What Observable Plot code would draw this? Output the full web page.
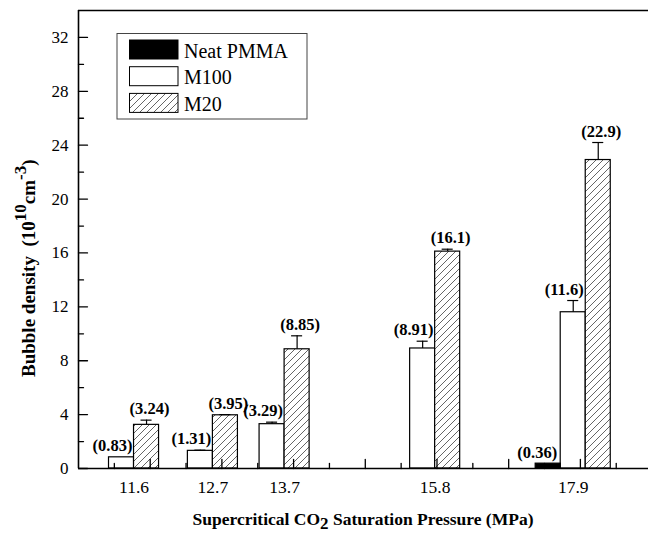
<!DOCTYPE html>
<html><head><meta charset="utf-8">
<script src="https://cdn.jsdelivr.net/npm/d3@7"></script>
<script src="https://cdn.jsdelivr.net/npm/@observablehq/plot@0.6"></script>
<style>
body{margin:0;background:#fff;}
#chart{width:648px;height:533px;}
</style>
</head><body><div id="chart"></div>
<script>
// ---- data ----
const pressures = [11.6, 12.7, 13.7, 15.8, 17.9];
const tickLabels = ["11.6", "12.7", "13.7", "15.8", "17.9"];
const neat = [null, null, null, null, 0.36];
const neatErr = [0, 0, 0, 0, 0];
const m100 = [0.83, 1.31, 3.29, 8.91, 11.6];
const m100Err = [0, 0.05, 0.15, 0.54, 0.87];
const m20 = [3.24, 3.95, 8.85, 16.1, 22.9];
const m20Err = [0.35, 0.05, 1.0, 0.18, 1.3];
const seriesNames = ["Neat PMMA", "M100", "M20"];
const yTickLabels = [0, 4, 8, 12, 16, 20, 24, 28, 32];

// ---- build table ----
const w = 0.349;      // bar width (MPa units)
const cap = 0.077;    // half cap width
const rows = [];
const tickPos = [];
pressures.forEach((p, i) => {
  const centers = [];
  if (neat[i] != null) { rows.push({s: seriesNames[0], x1: p - 1.5*w, x2: p - 0.5*w, c: p - w, v: neat[i], e: neatErr[i]}); centers.push(p - w); }
  rows.push({s: seriesNames[1], x1: p - 0.5*w, x2: p + 0.5*w, c: p, v: m100[i], e: m100Err[i]}); centers.push(p);
  rows.push({s: seriesNames[2], x1: p + 0.5*w, x2: p + 1.5*w, c: p + w, v: m20[i], e: m20Err[i]}); centers.push(p + w);
  tickPos.push(d3.mean(centers));
});
const bySeries = s => rows.filter(d => d.s === s);
const errRows = rows.filter(d => d.e > 0);

const xDomain = [11.0, 18.95];
const yDomain = [0, 34];
const xMajor = d3.range(11.5, 18.99, 0.5).filter(v => Math.abs(v - Math.round(v)) < 1e-9);
const xMinor = d3.range(11.5, 18.99, 0.5).filter(v => Math.abs(v - Math.round(v)) > 1e-9);
const yMajor = yTickLabels;
const yMinor = d3.range(2, 34, 4);

const lineShape = {draw(ctx, l) { ctx.moveTo(0, 0); ctx.lineTo(0, -l); }};
const serif = "Liberation Serif, Times New Roman, serif";
const labelStyle = {fontWeight: "bold", fontSize: 16.5, fill: "#000", lineAnchor: "bottom", dy: -6};

const chart = Plot.plot({
  width: 648, height: 533,
  marginLeft: 78, marginTop: 10, marginBottom: 65, marginRight: 0,
  style: {fontFamily: serif, background: "#fff", color: "#000"},
  x: {domain: xDomain, axis: null},
  y: {domain: yDomain, axis: null},
  marks: [
    Plot.rect(bySeries("M100"), {x1: "x1", x2: "x2", y1: 0, y2: "v", fill: "#fff", stroke: "#000", strokeWidth: 1.2}),
    Plot.rect(bySeries("M20"), {x1: "x1", x2: "x2", y1: 0, y2: "v", fill: "url(#hatch)", stroke: "#000", strokeWidth: 1.2}),
    Plot.rect(bySeries("Neat PMMA"), {x1: "x1", x2: "x2", y1: 0, y2: "v", fill: "#000", stroke: "#000", strokeWidth: 1.2}),
    Plot.ruleX(errRows, {x: "c", y1: "v", y2: d => d.v + d.e, stroke: "#000", strokeWidth: 1.2}),
    Plot.ruleY(errRows, {y: d => d.v + d.e, x1: d => d.c - cap, x2: d => d.c + cap, stroke: "#000", strokeWidth: 1.2}),
    Plot.text(bySeries("Neat PMMA"), {x: "c", y: d => d.v + d.e, text: d => `(${d.v})`, ...labelStyle, dx: -11}),
    Plot.text(bySeries("M100"), {x: "c", y: d => d.v + d.e, text: d => `(${d.v})`, ...labelStyle, dx: -9}),
    Plot.text(bySeries("M20"), {x: "c", y: d => d.v + d.e, text: d => `(${d.v})`, ...labelStyle, dx: 3}),
    // axes lines
    Plot.ruleY([yDomain[0]], {stroke: "#000", strokeWidth: 1.6}),
    Plot.ruleY([yDomain[1]], {stroke: "#000", strokeWidth: 1.6}),
    Plot.ruleX([xDomain[0]], {stroke: "#000", strokeWidth: 1.6}),
    // inward ticks
    Plot.vector(yMajor, {x: xDomain[0], y: d => d, length: 9, rotate: 90, anchor: "start", shape: lineShape, stroke: "#000", strokeWidth: 1.3}),
    Plot.vector(yMinor, {x: xDomain[0], y: d => d, length: 5, rotate: 90, anchor: "start", shape: lineShape, stroke: "#000", strokeWidth: 1.3}),
    Plot.vector(xMajor, {x: d => d, y: yDomain[0], length: 9, rotate: 0, anchor: "start", shape: lineShape, stroke: "#000", strokeWidth: 1.3}),
    Plot.vector(xMinor, {x: d => d, y: yDomain[0], length: 5, rotate: 0, anchor: "start", shape: lineShape, stroke: "#000", strokeWidth: 1.3}),
    // tick labels
    Plot.text(yTickLabels, {y: d => d, frameAnchor: "left", textAnchor: "end", dx: -10, text: d => String(d), fontSize: 17, fill: "#000"}),
    Plot.text(tickLabels, {x: (d, i) => tickPos[i], frameAnchor: "bottom", dy: 19, text: d => d, fontSize: 17.5, fill: "#000", lineAnchor: "middle"})
  ]
});

const svg = d3.select(chart);
const defs = svg.insert("defs", ":first-child");
const pat = defs.append("pattern").attr("id", "hatch").attr("patternUnits", "userSpaceOnUse").attr("width", 7).attr("height", 7);
pat.append("rect").attr("width", 7).attr("height", 7).attr("fill", "#fff");
pat.append("path").attr("d", "M-1,1 l2,-2 M0,7 l7,-7 M6,8 l2,-2").attr("stroke", "#555").attr("stroke-width", 0.9);

// legend
const lg = svg.append("g").attr("font-family", serif).attr("font-size", 20).attr("text-anchor", "start");
lg.append("rect").attr("x", 117).attr("y", 33.5).attr("width", 190).attr("height", 85.5).attr("fill", "#fff").attr("stroke", "#444").attr("stroke-width", 1);
const swFill = ["#000", "#fff", "url(#hatch)"];
seriesNames.forEach((s, i) => {
  const y = 40 + i * 26.7;
  lg.append("rect").attr("x", 129.5).attr("y", y).attr("width", 48.5).attr("height", 19).attr("fill", swFill[i]).attr("stroke", "#000").attr("stroke-width", 1);
  lg.append("text").attr("x", 184).attr("y", y + 17.5).attr("text-anchor", "start").attr("fill", "#000").text(s);
});

// axis titles
const xt = svg.append("text").attr("x", 363).attr("y", 525).attr("text-anchor", "middle")
  .attr("font-family", serif).attr("font-weight", "bold").attr("font-size", 17.5).attr("fill", "#000");
xt.append("tspan").text("Supercritical CO");
xt.append("tspan").attr("dy", 4).attr("font-size", 17).text("2");
xt.append("tspan").attr("dy", -4).text(" Saturation Pressure (MPa)");

const yt = svg.append("text").attr("transform", "translate(35,377) rotate(-90)").attr("text-anchor", "start")
  .attr("font-family", serif).attr("font-weight", "bold").attr("font-size", 19).attr("fill", "#000");
yt.append("tspan").text("Bubble density\u2002(10");
yt.append("tspan").attr("dy", -9).attr("font-size", 17).text("10");
yt.append("tspan").attr("dy", 9).text("cm");
yt.append("tspan").attr("dy", -9).attr("font-size", 17).text("-3");
yt.append("tspan").attr("dy", 9).text(")");

document.getElementById("chart").appendChild(chart);
</script>
</body></html>
